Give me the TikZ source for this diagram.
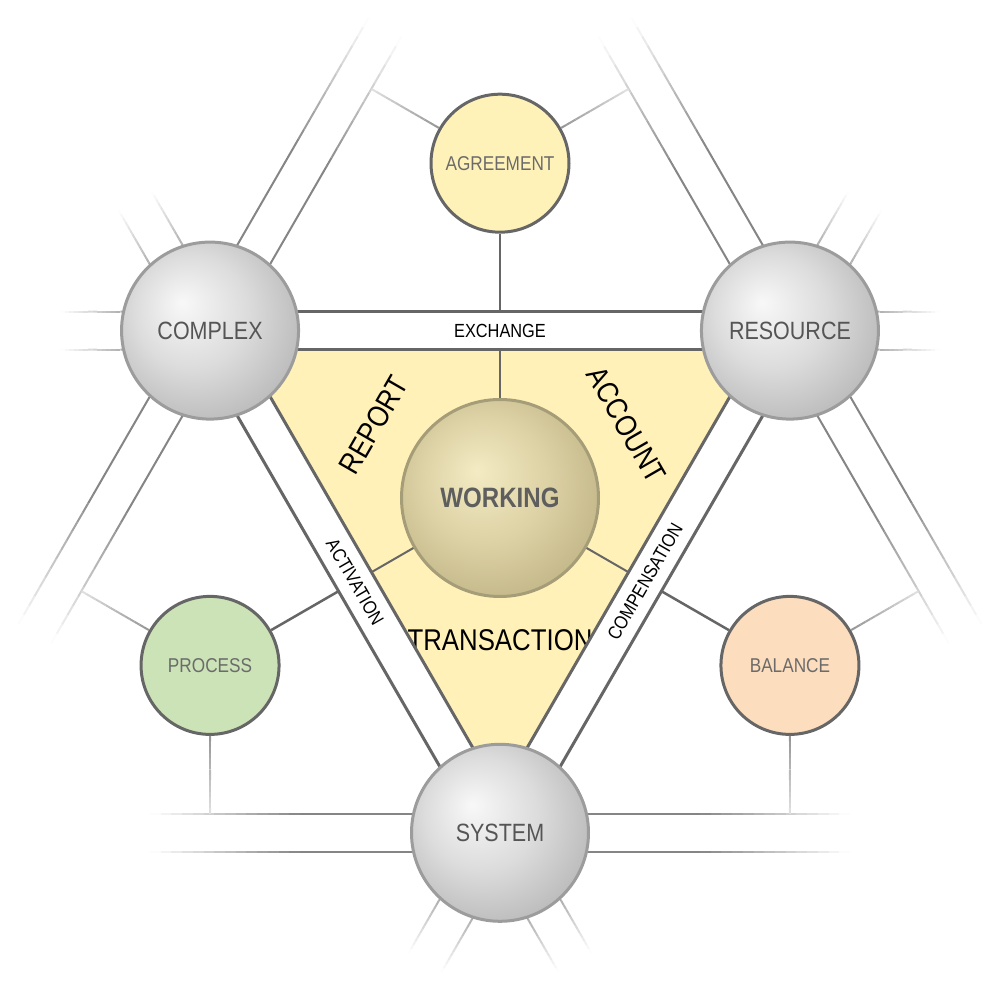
\documentclass[tikz,border=0pt]{standalone}
\usepackage{fontspec}
\setmainfont[FakeStretch=0.86]{Liberation Sans}
\usetikzlibrary{calc}

\definecolor{bandgray}{HTML}{666666}
\definecolor{sphedge}{HTML}{9C9C9C}
\definecolor{sphhi}{HTML}{F8F8F8}
\definecolor{sphmid}{HTML}{DCDCDC}
\definecolor{sphlo}{HTML}{B2B2B2}
\definecolor{sphtext}{HTML}{555555}
\definecolor{coreedge}{HTML}{A59D78}
\definecolor{corehi}{HTML}{F4EBC4}
\definecolor{coremid}{HTML}{DDD2A5}
\definecolor{corelo}{HTML}{BDB183}
\definecolor{coretext}{HTML}{5E5E5E}
\definecolor{petaltext}{HTML}{6B6B6B}
\definecolor{triyellow}{HTML}{FFF1B8}
\definecolor{agreefill}{HTML}{FFF2B9}
\definecolor{processfill}{HTML}{CCE2B7}
\definecolor{balancefill}{HTML}{FCDDBD}

\pgfdeclareradialshading{sphgray}{\pgfpoint{-8bp}{8bp}}{color(0bp)=(sphhi); color(16bp)=(sphmid); color(34bp)=(sphlo); color(50bp)=(sphlo)}
\pgfdeclareradialshading{coreshade}{\pgfpoint{-6bp}{7bp}}{color(0bp)=(corehi); color(16bp)=(coremid); color(33bp)=(corelo); color(50bp)=(corelo)}

% line that fades out in small steps
\newcommand\fadeline[5]{%
  \foreach \k in {0,...,13}{%
    \pgfmathtruncatemacro\mix{#3+(#4-#3)*(\k+0.5)/14}%
    \draw[line width=#5, draw=bandgray!\mix!white] ($#1!\k/14!#2$) -- ($#1!{(\k+1)/14}!#2$);
  }}

\tikzset{
  sphere/.style={circle, minimum size=177, draw=sphedge, line width=3, shade, shading=sphgray, text=sphtext, font=\fontsize{25}{30}\selectfont},
  core/.style={circle, minimum size=197, draw=coreedge, line width=3, shade, shading=coreshade, text=coretext, font=\bfseries\fontsize{28}{32}\selectfont},
  petal/.style={circle, minimum size=138, draw=bandgray, line width=3, text=petaltext, font=\fontsize{20}{24}\selectfont},
  bandline/.style={draw=bandgray, line width=3},
  longline/.style={draw=bandgray!80, line width=2},
  link/.style={draw=bandgray, line width=2},
  bandlabel/.style={font=\fontsize{19}{22}\selectfont},
  zonelabel/.style={font=\fontsize{30}{34}\selectfont}
}

\begin{document}
\begin{tikzpicture}[x=1pt,y=1pt]
  \useasboundingbox (-500,-502) rectangle (500,498);
  % inner triangle
  \fill[triyellow] (30:296.8) -- (150:296.8) -- (270:296.8) -- cycle;
  \node[zonelabel, rotate=60] (report) at (150:146) {REPORT};
  \node[zonelabel, rotate=-60] (account) at (30:146) {ACCOUNT};
  \node[zonelabel] (transaction) at (270:142) {TRANSACTION};
  % bands, one per side
  \foreach \a in {0,120,240}{
    \begin{scope}[rotate=\a]
      \fill[white] (-290,148.4) -- (290,148.4) -- (290,186.4) -- (-290,186.4) -- cycle;
      \draw[bandline] (-290,148.4) -- (290,148.4) (-290,186.4) -- (290,186.4);
      \foreach \y in {148.4,186.4}{
        \fadeline{(-375,\y)}{(-440,\y)}{55}{0}{2}
        \fadeline{(375,\y)}{(440,\y)}{55}{0}{2}
      }
      \foreach \y in {-316,-354}{
        \draw[longline] (-200,\y) -- (200,\y);
        \fadeline{(-200,\y)}{(-350,\y)}{80}{0}{2}
        \fadeline{(200,\y)}{(350,\y)}{80}{0}{2}
      }
    \end{scope}
  }
  \node[bandlabel] (exchange) at (90:167.4) {EXCHANGE};
  \node[bandlabel, rotate=-60] (activation) at (210:167.4) {ACTIVATION};
  \node[bandlabel, rotate=60] (compensation) at (330:167.4) {COMPENSATION};

  \node[sphere] (complex) at (150:334.8) {COMPLEX};
  \node[sphere] (resource) at (30:334.8) {RESOURCE};
  \node[sphere] (system) at (270:334.8) {SYSTEM};
  \node[core] (working) at (0,0) {WORKING};
  \node[petal, fill=agreefill] (agreement) at (90:334.8) {AGREEMENT};
  \node[petal, fill=processfill] (process) at (210:334.8) {PROCESS};
  \node[petal, fill=balancefill] (balance) at (330:334.8) {BALANCE};

  \draw[link] (working.north) -- (90:148.4);
  \draw[link] (working.210) -- (210:148.4);
  \draw[link] (working.330) -- (330:148.4);
  \draw[link, line width=2.5] (agreement.south) -- (90:186.4);
  \draw[link, line width=2.5] (process.30) -- ($(process)+(30:148.4)$);
  \draw[link, line width=2.5] (balance.150) -- ($(balance)+(150:148.4)$);

  \coordinate (agreeL) at ($(agreement)+(150:148.4)$);
  \coordinate (agreeR) at ($(agreement)+(30:148.4)$);
  \coordinate (processL) at ($(process)+(150:148.4)$);
  \coordinate (processD) at ($(process)+(270:148.4)$);
  \coordinate (balanceR) at ($(balance)+(30:148.4)$);
  \coordinate (balanceD) at ($(balance)+(270:148.4)$);
  \fadeline{(agreement.150)}{(agreeL)}{70}{20}{2}
  \fadeline{(agreement.30)}{(agreeR)}{70}{20}{2}
  \fadeline{(process.150)}{(processL)}{70}{20}{2}
  \fadeline{(process.south)}{(processD)}{70}{20}{2}
  \fadeline{(balance.30)}{(balanceR)}{70}{20}{2}
  \fadeline{(balance.south)}{(balanceD)}{70}{20}{2}
\end{tikzpicture}
\end{document}
